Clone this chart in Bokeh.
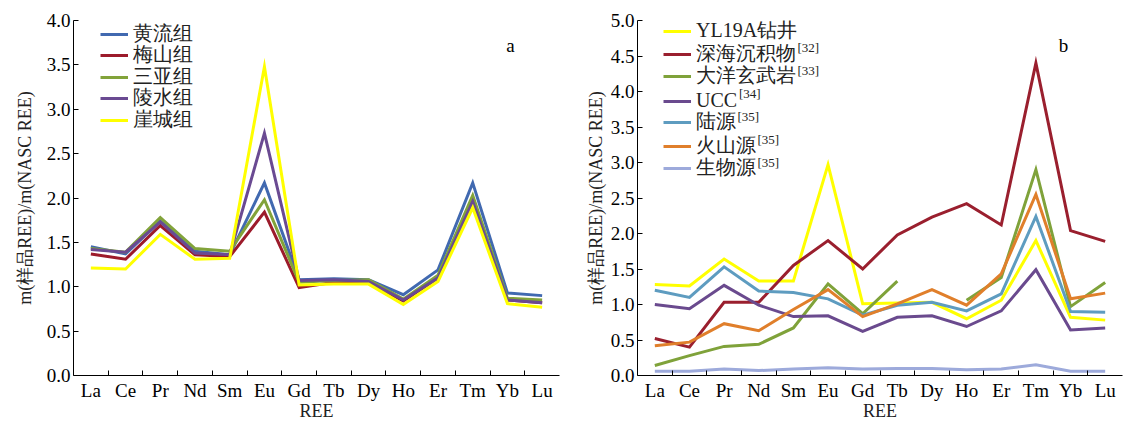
import numpy as np
from bokeh.plotting import figure
from bokeh.layouts import row
from bokeh.models import FixedTicker, Legend, LegendItem, Label, Range1d, NumeralTickFormatter
from bokeh.embed import file_html
from bokeh.resources import INLINE

ree = ["La", "Ce", "Pr", "Nd", "Sm", "Eu", "Gd", "Tb", "Dy", "Ho", "Er", "Tm", "Yb", "Lu"]

# Panel a
a_names = ["黄流组", "梅山组", "三亚组", "陵水组", "崖城组"]
huangliu = [1.45, 1.37, 1.74, 1.40, 1.36, 2.17, 1.08, 1.09, 1.08, 0.91, 1.19, 2.17, 0.93, 0.90]
meishan = [1.37, 1.31, 1.69, 1.36, 1.34, 1.84, 0.99, 1.05, 1.05, 0.84, 1.10, 1.98, 0.85, 0.82]
sanya = [1.43, 1.39, 1.78, 1.43, 1.40, 1.98, 1.05, 1.07, 1.08, 0.86, 1.13, 2.03, 0.87, 0.85]
lingshui = [1.42, 1.39, 1.73, 1.38, 1.36, 2.73, 1.07, 1.08, 1.06, 0.85, 1.10, 1.96, 0.85, 0.82]
yacheng = [1.21, 1.20, 1.59, 1.31, 1.32, 3.48, 1.02, 1.03, 1.03, 0.80, 1.06, 1.89, 0.81, 0.77]
a_series = [huangliu, meishan, sanya, lingshui, yacheng]
a_colors = ["#4169B0", "#9C1B2B", "#82A33A", "#6A4A92", "#FFFF00"]
a_refs = ["", "", "", "", ""]

# Panel b
b_names = ["YL19A钻井", "深海沉积物", "大洋玄武岩", "UCC", "陆源", "火山源", "生物源"]
b_refs = ["", "[32]", "[33]", "[34]", "[35]", "[35]", "[35]"]
yl19a = [1.28, 1.26, 1.64, 1.33, 1.33, 2.97, 1.01, 1.02, 1.03, 0.80, 1.06, 1.90, 0.82, 0.78]
deepsea = [0.52, 0.40, 1.03, 1.03, 1.55, 1.90, 1.50, 1.98, 2.23, 2.42, 2.12, 4.40, 2.04, 1.89]
basalt = [0.14, 0.28, 0.41, 0.44, 0.67, 1.29, 0.87, 1.33, float("nan"), 1.06, 1.38, 2.90, 0.97, 1.31]
ucc = [1.00, 0.94, 1.27, 0.99, 0.83, 0.84, 0.62, 0.82, 0.84, 0.69, 0.91, 1.49, 0.64, 0.67]
terr = [1.20, 1.10, 1.53, 1.19, 1.17, 1.08, 0.85, 0.99, 1.03, 0.91, 1.15, 2.24, 0.90, 0.89]
volc = [0.42, 0.47, 0.73, 0.63, 0.93, 1.21, 0.83, 1.01, 1.21, 0.99, 1.43, 2.55, 1.08, 1.16]
bio = [0.06, 0.06, 0.09, 0.07, 0.09, 0.11, 0.09, 0.10, 0.10, 0.08, 0.09, 0.15, 0.06, 0.06]
b_series = [yl19a, deepsea, basalt, ucc, terr, volc, bio]
b_colors = ["#FFFF00", "#9A1F2E", "#7FA23A", "#6A4A8E", "#5E9CC0", "#E07F2B", "#9DAADB"]

FONT = "Liberation Serif"
x = list(range(len(ree)))


def text_px(s, size):
    # rough width estimate of a legend label (CJK full width, Latin serif)
    w = 0.0
    for ch in s:
        if ord(ch) > 0x2E80:
            w += 1.0
        elif ch.isupper():
            w += 0.69
        else:
            w += 0.5
    return w * size


def make_panel(width, height, ymax, names, refs, series, colors, mb, lb, rb,
               frame_w, frame_h, leg_x, row_y, tag, tag_xy, ylab_standoff):
    p = figure(width=width, height=height, output_backend="svg", toolbar_location=None,
               x_range=Range1d(-0.5, len(ree) - 0.5), y_range=Range1d(0, ymax),
               min_border_left=lb, min_border_right=rb, min_border_top=20, min_border_bottom=mb)
    p.outline_line_color = None
    p.xgrid.visible = False
    p.ygrid.visible = False
    p.background_fill_color = "white"
    p.border_fill_color = "white"

    p.xaxis.ticker = FixedTicker(ticks=x, minor_ticks=[i + 0.5 for i in range(len(ree) - 1)])
    p.xaxis.major_label_overrides = {i: n for i, n in enumerate(ree)}
    p.xaxis.axis_label = "REE"

    p.yaxis.ticker = FixedTicker(ticks=[i * 0.5 for i in range(int(ymax / 0.5) + 1)])
    p.yaxis.formatter = NumeralTickFormatter(format="0.0")
    p.yaxis.axis_label = "m(样品REE)/m(NASC REE)"

    xa, ya = p.xaxis[0], p.yaxis[0]
    xa.major_tick_line_color = None
    xa.minor_tick_line_color = "black"
    xa.minor_tick_in = 5
    xa.minor_tick_out = 0
    ya.major_tick_line_color = "black"
    ya.major_tick_in = 5
    ya.major_tick_out = 0
    ya.minor_tick_line_color = None
    for ax in (xa, ya):
        ax.axis_line_color = "black"
        ax.major_label_text_font = FONT
        ax.major_label_text_font_size = "19px"
        ax.major_label_text_color = "black"
        ax.axis_label_text_font = FONT
        ax.axis_label_text_font_size = "18px"
        ax.axis_label_text_font_style = "normal"
        ax.axis_label_text_color = "#222222"
    xa.major_label_standoff = -2
    xa.axis_label_standoff = -3
    ya.major_label_standoff = 3
    ya.axis_label_standoff = ylab_standoff

    px_x = frame_w / len(ree)
    px_y = frame_h / ymax
    for i, (n, ref, s, c) in enumerate(zip(names, refs, series, colors)):
        r = p.line(x, s, line_color=c, line_width=3, line_join="miter")
        # one legend per entry so the row pitch matches the reference
        leg = Legend(items=[LegendItem(label=n, renderers=[r])],
                     location=(leg_x, int(round(frame_h - row_y[i] - 13.5))),
                     border_line_color=None, background_fill_alpha=0, padding=0, margin=0,
                     glyph_width=28, glyph_height=20, label_height=20, label_standoff=5,
                     label_text_font=FONT, label_text_font_size="20px", label_text_color="#222222")
        p.add_layout(leg, "center")
        if ref:
            sx = leg_x + 28 + 5 + text_px(n, 20) + 1
            p.add_layout(Label(x=sx / px_x - 0.5, y=(frame_h - row_y[i] + 6) / px_y, text=ref,
                               text_font=FONT, text_font_size="13px", text_align="left",
                               text_baseline="middle", text_color="#222222"))

    p.add_layout(Label(x=tag_xy[0], y=tag_xy[1], text=tag, text_font=FONT, text_font_size="19px",
                       text_align="center", text_baseline="middle", text_color="black"))
    return p


# row_y: centre of each legend row measured from the top of the frame (px)
pa = make_panel(575, 423, 4.0, a_names, a_refs, a_series, a_colors, mb=45, lb=73, rb=16,
                frame_w=486, frame_h=358, leg_x=27, row_y=[16, 37.5, 59.5, 80.5, 102],
                tag="a", tag_xy=(12.09, 3.72), ylab_standoff=9)
pb = make_panel(553, 423, 5.0, b_names, b_refs, b_series, b_colors, mb=48, lb=62, rb=6,
                frame_w=485, frame_h=355, leg_x=26, row_y=[10.5, 33, 56, 78.5, 101.5, 125, 147.5],
                tag="b", tag_xy=(11.8, 4.65), ylab_standoff=2)

layout = row(pa, pb)
open("out.html", "w").write(file_html(layout, INLINE))
